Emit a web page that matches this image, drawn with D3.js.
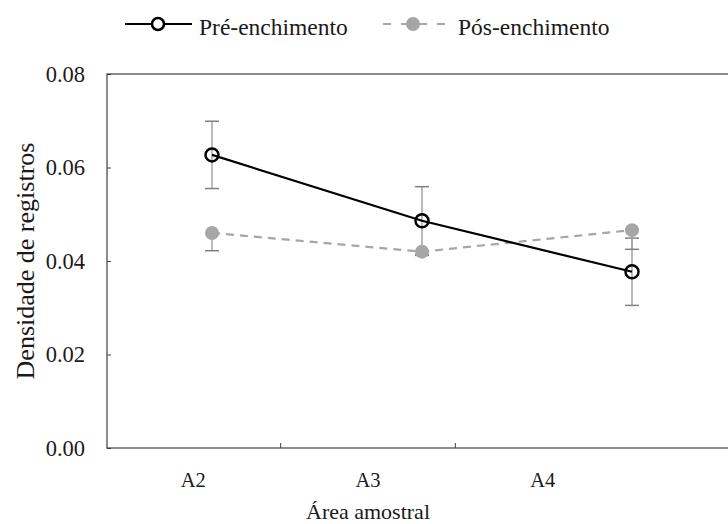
<!DOCTYPE html>
<meta charset="utf-8">
<script src="https://cdn.jsdelivr.net/npm/d3@7"></script>
<style>
    body { margin: 0; background: #fff; }
    text {
        font-family: "Liberation Serif", "Tinos", "Times New Roman", "DejaVu Serif", serif;
        fill: #1a1a1a;
    }
    .domain { display: none; }
</style>

<body>
    <script>
        // chart data
        var categories = ["A2", "A3", "A4"];
        var preValues = [0.0627, 0.0486, 0.0377];
        var preErrors = [0.0072, 0.0073, 0.0072];
        var posValues = [0.0460, 0.0420, 0.0466];
        var posErrors = [0.0038, 0.0008, 0.0041];  // only lower bars shown
        var yTicks = [0, 0.02, 0.04, 0.06, 0.08];

        var width = 728,
            height = 524;
        var plotLeft = 107, plotTop = 74, plotBottom = 448, plotRight = 737;

        var svg = d3.select("body").append("svg")
            .attr("width", width)
            .attr("height", height);

        var y = d3.scaleLinear().domain([0, 0.08]).range([plotBottom, plotTop]);

        // category labels / ticks
        var xLab = d3.scaleBand().domain(categories).range([plotLeft - 1, 630]);
        // point positions (the line series sits on a wider band)
        var xPt = d3.scaleBand().domain(categories).range([plotLeft, plotRight]);

        // plot box (right side runs off the picture)
        svg.append("rect")
            .attr("x", plotLeft).attr("y", plotTop)
            .attr("width", plotRight - plotLeft).attr("height", plotBottom - plotTop)
            .attr("fill", "none")
            .attr("stroke", "#404040")
            .attr("stroke-width", 1.2);

        // y axis, ticks pointing inwards
        var yAxis = svg.append("g")
            .attr("transform", "translate(" + plotLeft + ",0)")
            .call(d3.axisLeft(y).tickValues(yTicks).tickSize(-4).tickPadding(22)
                .tickFormat(d3.format(".2f")));
        yAxis.selectAll("line").attr("stroke", "#404040");
        yAxis.selectAll("text")
            .style("font-size", "22.5px")
            .style("font-family", "'Liberation Serif', Tinos, 'Times New Roman', serif")
            .attr("fill", "#1a1a1a");

        // x tick marks between categories
        svg.append("g").selectAll("line")
            .data(categories.slice(1))
            .enter().append("line")
            .attr("x1", function (d) { return xLab(d); })
            .attr("x2", function (d) { return xLab(d); })
            .attr("y1", plotBottom)
            .attr("y2", plotBottom - 5)
            .attr("stroke", "#404040");

        // x labels
        svg.append("g").selectAll("text")
            .data(categories)
            .enter().append("text")
            .attr("x", function (d) { return xLab(d) + xLab.bandwidth() / 2; })
            .attr("y", 487)
            .attr("text-anchor", "middle")
            .style("font-size", "20.5px")
            .text(function (d) { return d; });

        // axis titles
        svg.append("text")
            .attr("x", 368).attr("y", 519)
            .attr("text-anchor", "middle")
            .style("font-size", "22px")
            .text("Área amostral");

        svg.append("text")
            .attr("transform", "translate(34," + ((plotTop + plotBottom) / 2) + ") rotate(-90)")
            .attr("text-anchor", "middle")
            .style("font-size", "26px")
            .text("Densidade de registros");

        function cx(i) { return xPt(categories[i]) + xPt.bandwidth() / 2; }

        var errColor = "#a3a3a3";
        var cap = 7;

        // error bars, Pré (both sides)
        var preErr = svg.append("g").selectAll("g")
            .data(preValues).enter().append("g");
        preErr.append("line")
            .attr("x1", function (d, i) { return cx(i); })
            .attr("x2", function (d, i) { return cx(i); })
            .attr("y1", function (d, i) { return y(d + preErrors[i]); })
            .attr("y2", function (d, i) { return y(d - preErrors[i]); })
            .attr("stroke", errColor).attr("stroke-width", 1.5);
        [1, -1].forEach(function (s) {
            preErr.append("line")
                .attr("x1", function (d, i) { return cx(i) - cap; })
                .attr("x2", function (d, i) { return cx(i) + cap; })
                .attr("y1", function (d, i) { return y(d + s * preErrors[i]); })
                .attr("y2", function (d, i) { return y(d + s * preErrors[i]); })
                .attr("stroke", "#808080").attr("stroke-width", 1.5);
        });

        // error bars, Pós (minus only)
        var posErr = svg.append("g").selectAll("g")
            .data(posValues).enter().append("g");
        posErr.append("line")
            .attr("x1", function (d, i) { return cx(i); })
            .attr("x2", function (d, i) { return cx(i); })
            .attr("y1", function (d) { return y(d); })
            .attr("y2", function (d, i) { return y(d - posErrors[i]); })
            .attr("stroke", errColor).attr("stroke-width", 1.5);
        posErr.append("line")
            .attr("x1", function (d, i) { return cx(i) - cap; })
            .attr("x2", function (d, i) { return cx(i) + cap; })
            .attr("y1", function (d, i) { return y(d - posErrors[i]); })
            .attr("y2", function (d, i) { return y(d - posErrors[i]); })
            .attr("stroke", "#808080").attr("stroke-width", 1.5);

        var line = d3.line()
            .x(function (d, i) { return cx(i); })
            .y(function (d) { return y(d); });

        // Pós series
        svg.append("path")
            .datum(posValues)
            .attr("d", line)
            .attr("fill", "none")
            .attr("stroke", "#a6a6a6")
            .attr("stroke-width", 2.2)
            .attr("stroke-dasharray", "8,6");
        svg.append("g").selectAll("circle")
            .data(posValues).enter().append("circle")
            .attr("cx", function (d, i) { return cx(i); })
            .attr("cy", function (d) { return y(d); })
            .attr("r", 7)
            .attr("fill", "#a6a6a6");

        // Pré series
        svg.append("path")
            .datum(preValues)
            .attr("d", line)
            .attr("fill", "none")
            .attr("stroke", "#000")
            .attr("stroke-width", 2.2);
        svg.append("g").selectAll("circle")
            .data(preValues).enter().append("circle")
            .attr("cx", function (d, i) { return cx(i); })
            .attr("cy", function (d) { return y(d); })
            .attr("r", 6.5)
            .attr("fill", "none")
            .attr("stroke", "#000")
            .attr("stroke-width", 2.5);

        // legend
        var legY = 24;
        var leg1 = svg.append("g");
        leg1.append("line")
            .attr("x1", 125).attr("x2", 192).attr("y1", legY).attr("y2", legY)
            .attr("stroke", "#000").attr("stroke-width", 2.2);
        leg1.append("circle")
            .attr("cx", 158).attr("cy", legY).attr("r", 6)
            .attr("fill", "#fff").attr("stroke", "#000").attr("stroke-width", 2.5);
        leg1.append("text")
            .attr("x", 199).attr("y", 35)
            .style("font-size", "23.5px")
            .text("Pré-enchimento");

        var leg2 = svg.append("g");
        leg2.append("line")
            .attr("x1", 383).attr("x2", 445).attr("y1", legY).attr("y2", legY)
            .attr("stroke", "#a6a6a6").attr("stroke-width", 2.2)
            .attr("stroke-dasharray", "8,10");
        leg2.append("circle")
            .attr("cx", 413).attr("cy", legY).attr("r", 7)
            .attr("fill", "#a6a6a6");
        leg2.append("text")
            .attr("x", 458).attr("y", 35)
            .style("font-size", "23.5px")
            .text("Pós-enchimento");
    </script>
</body>
